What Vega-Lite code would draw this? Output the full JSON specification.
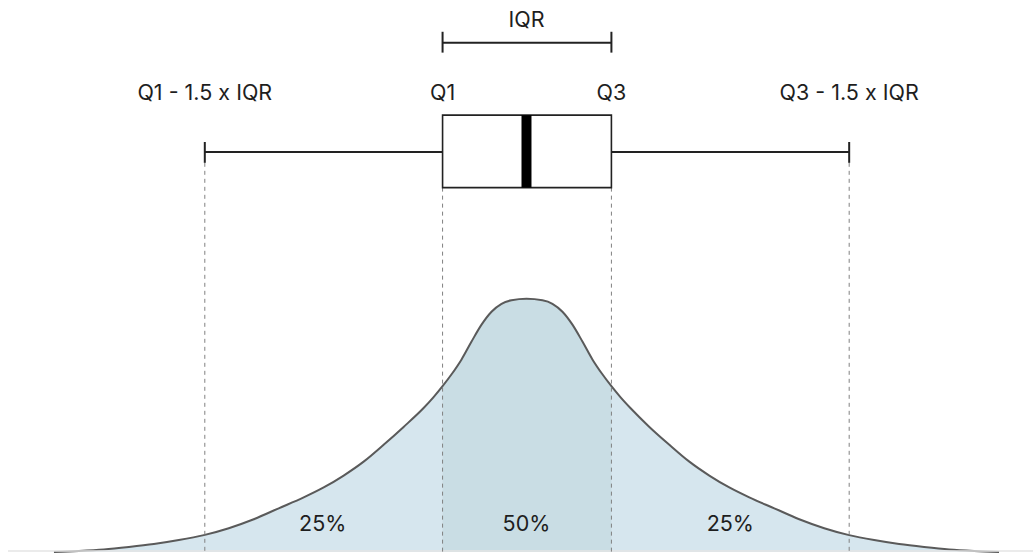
{
  "$schema": "https://vega.github.io/schema/vega-lite/v6.json",
  "autosize": {"type": "fit", "contains": "padding"},
  "width": 1034,
  "height": 556,
  "padding": 0,
  "background": "white",
  "config": {"view": {"stroke": null}},
  "datasets": {
    "curve": [
      {"x": 54, "y": 556}, {"x": 79, "y": 555}, {"x": 104, "y": 553.5}, {"x": 129, "y": 551}, {"x": 154, "y": 548},
      {"x": 179, "y": 544}, {"x": 204, "y": 539}, {"x": 229, "y": 532}, {"x": 254, "y": 523},
      {"x": 279, "y": 512}, {"x": 304, "y": 501}, {"x": 324, "y": 491}, {"x": 344, "y": 479},
      {"x": 364, "y": 465}, {"x": 384, "y": 448}, {"x": 404, "y": 430}, {"x": 424, "y": 411},
      {"x": 434, "y": 400}, {"x": 443, "y": 389}, {"x": 452, "y": 377}, {"x": 462, "y": 362},
      {"x": 472, "y": 344}, {"x": 482, "y": 327}, {"x": 492, "y": 314}, {"x": 502, "y": 306},
      {"x": 512, "y": 302.5}, {"x": 527, "y": 301}, {"x": 543, "y": 302.5},
      {"x": 553, "y": 306}, {"x": 563, "y": 314}, {"x": 573, "y": 327}, {"x": 583, "y": 344},
      {"x": 593, "y": 362}, {"x": 603, "y": 377}, {"x": 612, "y": 389}, {"x": 621, "y": 400},
      {"x": 631, "y": 411}, {"x": 650, "y": 430}, {"x": 670, "y": 448},
      {"x": 690, "y": 465}, {"x": 710, "y": 479}, {"x": 730, "y": 491}, {"x": 750, "y": 501},
      {"x": 775, "y": 512}, {"x": 800, "y": 523}, {"x": 825, "y": 532}, {"x": 850, "y": 539},
      {"x": 875, "y": 544}, {"x": 900, "y": 548}, {"x": 925, "y": 551}, {"x": 950, "y": 553.5},
      {"x": 975, "y": 555}, {"x": 1000, "y": 556}
    ],
    "segs": [
      {"x": 205, "y": 153, "x2": 443, "y2": 153, "kind": "solid"},
      {"x": 612, "y": 153, "x2": 850, "y2": 153, "kind": "solid"},
      {"x": 205, "y": 143, "x2": 205, "y2": 164, "kind": "solid"},
      {"x": 850, "y": 143, "x2": 850, "y2": 164, "kind": "solid"},
      {"x": 443, "y": 43, "x2": 612, "y2": 43, "kind": "solid"},
      {"x": 443, "y": 32, "x2": 443, "y2": 53, "kind": "solid"},
      {"x": 612, "y": 32, "x2": 612, "y2": 53, "kind": "solid"},
      {"x": 205, "y": 164, "x2": 205, "y2": 556, "kind": "dashed"},
      {"x": 443, "y": 189, "x2": 443, "y2": 556, "kind": "dashed"},
      {"x": 612, "y": 189, "x2": 612, "y2": 556, "kind": "dashed"},
      {"x": 850, "y": 164, "x2": 850, "y2": 556, "kind": "dashed"},
      {"x": 8, "y": 555, "x2": 1034, "y2": 555, "kind": "base"}
    ],
    "boxes": [
      {"x": 443, "x2": 612, "y": 116, "y2": 189, "kind": "box"},
      {"x": 522, "x2": 532, "y": 116, "y2": 189, "kind": "median"}
    ],
    "labels": [
      {"x": 527, "y": 21, "t": "IQR"},
      {"x": 443, "y": 95, "t": "Q1"},
      {"x": 612, "y": 95, "t": "Q3"},
      {"x": 205, "y": 95, "t": "Q1 - 1.5 x IQR"},
      {"x": 850, "y": 95, "t": "Q3 - 1.5 x IQR"},
      {"x": 323, "y": 529, "t": "25%"},
      {"x": 527, "y": 529, "t": "50%"},
      {"x": 731, "y": 529, "t": "25%"}
    ]
  },
  "encoding": {
    "x": {"field": "x", "type": "quantitative", "scale": {"domain": [0, 1034], "nice": false, "zero": false}, "axis": null},
    "y": {"field": "y", "type": "quantitative", "scale": {"domain": [0, 556], "nice": false, "zero": false, "reverse": true}, "axis": null}
  },
  "layer": [
    {
      "data": {"name": "curve"},
      "mark": {"type": "area", "interpolate": "monotone", "color": "#d6e6ee"},
      "encoding": {"y2": {"datum": 556}}
    },
    {
      "data": {"name": "curve"},
      "transform": [{"filter": "datum.x >= 443 && datum.x <= 612"}],
      "mark": {"type": "area", "interpolate": "monotone", "color": "#c9dde4"},
      "encoding": {"y2": {"datum": 556}}
    },
    {
      "data": {"name": "curve"},
      "mark": {"type": "line", "interpolate": "monotone", "color": "#5a5a5a", "strokeWidth": 2},
      "encoding": {}
    },
    {
      "data": {"name": "segs"},
      "transform": [{"filter": "datum.kind === 'base'"}],
      "mark": {"type": "rule", "color": "#e4e4e4", "strokeWidth": 1.5},
      "encoding": {"x2": {"field": "x2"}, "y2": {"field": "y2"}}
    },
    {
      "data": {"name": "segs"},
      "transform": [{"filter": "datum.kind === 'dashed'"}],
      "mark": {"type": "rule", "color": "#808080", "strokeWidth": 1, "strokeDash": [4, 4]},
      "encoding": {"x2": {"field": "x2"}, "y2": {"field": "y2"}}
    },
    {
      "data": {"name": "segs"},
      "transform": [{"filter": "datum.kind === 'solid'"}],
      "mark": {"type": "rule", "color": "#222222", "strokeWidth": 2},
      "encoding": {"x2": {"field": "x2"}, "y2": {"field": "y2"}}
    },
    {
      "data": {"name": "boxes"},
      "transform": [{"filter": "datum.kind === 'box'"}],
      "mark": {"type": "rect", "fill": "white", "stroke": "#222222", "strokeWidth": 1.6},
      "encoding": {"x2": {"field": "x2"}, "y2": {"field": "y2"}}
    },
    {
      "data": {"name": "boxes"},
      "transform": [{"filter": "datum.kind === 'median'"}],
      "mark": {"type": "rect", "fill": "#000000"},
      "encoding": {"x2": {"field": "x2"}, "y2": {"field": "y2"}}
    },
    {
      "data": {"name": "labels"},
      "mark": {"type": "text", "font": "Inter", "fontSize": 21.5, "color": "#1e1e1e", "align": "center", "baseline": "middle"},
      "encoding": {"text": {"field": "t"}}
    }
  ]
}
